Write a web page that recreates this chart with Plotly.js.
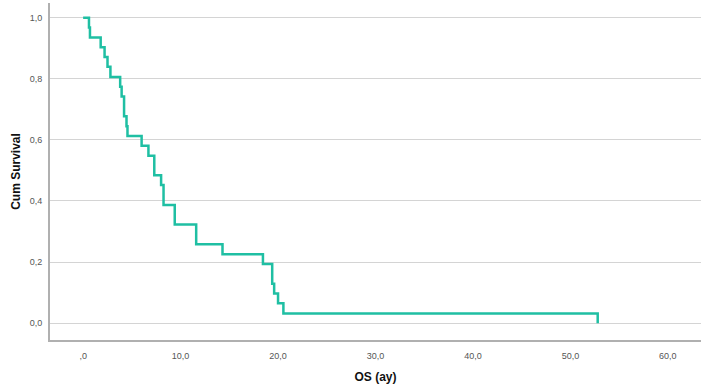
<!DOCTYPE html>
<html>
<head>
<meta charset="utf-8">
<script src="https://cdn.plot.ly/plotly-3.0.1.min.js"></script>
<style>
  html, body { margin: 0; padding: 0; background: #fff; }
  #chart { width: 701px; height: 392px; }
</style>
</head>
<body>
<div id="chart"></div>
<script>
// Kaplan-Meier survival steps: time (months) and cumulative survival after each step
const times = [0, 0.6, 0.7, 1.8, 2.2, 2.5, 2.8, 3.8, 3.95, 4.2, 4.45, 4.55, 6.0, 6.7, 7.3, 8.0, 8.25, 9.4, 11.6, 14.3, 18.45, 19.4, 19.6, 20.0, 20.55, 52.8];
const survival = [1.0, 0.968, 0.935, 0.903, 0.871, 0.839, 0.806, 0.774, 0.742, 0.677, 0.645, 0.613, 0.581, 0.548, 0.484, 0.452, 0.387, 0.323, 0.258, 0.226, 0.194, 0.129, 0.097, 0.065, 0.032, 0.0];

const xTickVals = [0, 10, 20, 30, 40, 50, 60];
const xTickText = [',0', '10,0', '20,0', '30,0', '40,0', '50,0', '60,0'];
const yTickVals = [0, 0.2, 0.4, 0.6, 0.8, 1.0];
const yTickText = ['0,0', '0,2', '0,4', '0,6', '0,8', '1,0'];

const trace = {
  x: times,
  y: survival,
  type: 'scatter',
  mode: 'lines',
  line: { shape: 'hv', color: '#1fbfa3', width: 2.5 },
  hoverinfo: 'skip'
};

const tickFont = { family: 'Liberation Sans, Arial, sans-serif', size: 9, color: '#555' };
const titleFont = { family: 'Liberation Sans, Arial, sans-serif', size: 12, color: '#111', weight: 'bold' };

const layout = {
  width: 701,
  height: 392,
  margin: { l: 50, r: 0, t: 3, b: 52 },
  paper_bgcolor: '#fff',
  plot_bgcolor: '#fff',
  showlegend: false,
  xaxis: {
    range: [-3.4, 63.4],
    tickvals: xTickVals,
    ticktext: xTickText,
    tickfont: tickFont,
    showgrid: false,
    zeroline: false,
    showline: true,
    linecolor: '#b0b0b0',
    linewidth: 2,
    ticks: '',
    ticklabelstandoff: 6,
    title: { text: 'OS (ay)', font: titleFont, standoff: 13 }
  },
  yaxis: {
    range: [-0.055, 1.048],
    tickvals: yTickVals,
    ticktext: yTickText,
    tickfont: tickFont,
    showgrid: true,
    gridcolor: '#d4d4d4',
    gridwidth: 1,
    zeroline: false,
    showline: true,
    linecolor: '#b0b0b0',
    linewidth: 2,
    ticks: '',
    ticklabelstandoff: 4,
    title: { text: 'Cum Survival', font: titleFont, standoff: 6 }
  }
};

Plotly.newPlot('chart', [trace], layout, { displayModeBar: false, staticPlot: true });
</script>
</body>
</html>
